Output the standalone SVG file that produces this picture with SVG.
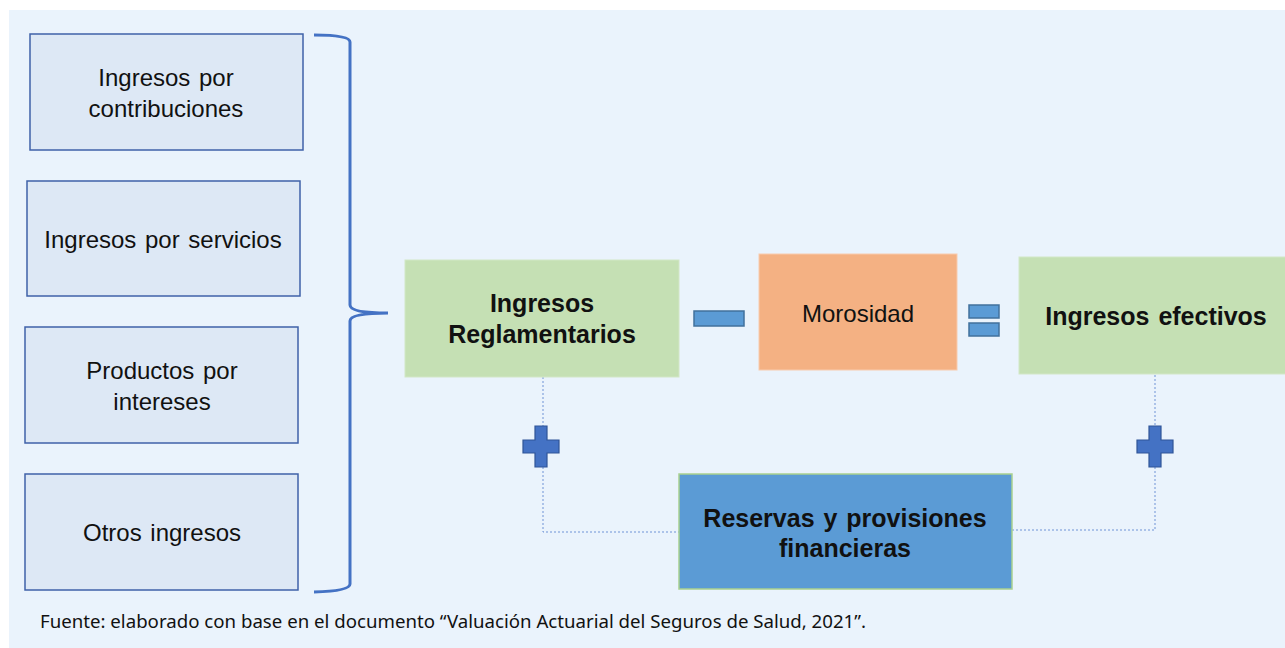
<svg xmlns="http://www.w3.org/2000/svg" width="1285" height="648" viewBox="0 0 1285 648">
<style>
.src{fill:#DDE8F5;stroke:#3F62A8;stroke-width:1.5}
.t{font-family:"Liberation Sans",Arial,sans-serif;font-size:24px;fill:#111;text-anchor:middle;word-spacing:2px}
.b{font-weight:bold;font-size:25px}
.green{fill:#C5E0B4;stroke:#D2E7C6;stroke-width:1}
.op{fill:#5B9BD5;stroke:#41719C;stroke-width:1.5}
.plus{fill:#4472C4;stroke:#2F5597;stroke-width:1.2}
.dot{fill:none;stroke:#6E93D6;stroke-width:1;stroke-dasharray:2 2}
</style>
<rect x="0" y="0" width="1285" height="648" fill="#ffffff"/>
<rect x="9" y="10" width="1276" height="638" fill="#EAF3FC"/>
<g id="n1"><rect class="src" x="30" y="34" width="273" height="116"/><text class="t" x="166" y="86">Ingresos por</text><text class="t" x="166" y="117">contribuciones</text></g>
<g id="n2"><rect class="src" x="27" y="181" width="273" height="115"/><text class="t" x="163" y="248">Ingresos por servicios</text></g>
<g id="n3"><rect class="src" x="25" y="327" width="273" height="116"/><text class="t" x="162" y="379">Productos por</text><text class="t" x="162" y="410">intereses</text></g>
<g id="n4"><rect class="src" x="25" y="474" width="273" height="116"/><text class="t" x="162" y="541">Otros ingresos</text></g>
<g id="brace"><path d="M314,35 Q350,35 350,42 L350,305 Q350,313 388,313 Q350,313 350,321 L350,584 Q350,591 314,592" fill="none" stroke="#4472C4" stroke-width="3"/></g>
<g id="connectors">
<path class="dot" d="M543,377 V426"/>
<path class="dot" d="M543,467 V532 H679"/>
<path class="dot" d="M1155,375 V426"/>
<path class="dot" d="M1155,467 V530 H1012"/>
</g>
<g id="n5"><rect class="green" x="405" y="260" width="274" height="117"/><text class="t b" x="542" y="312">Ingresos</text><text class="t b" x="542" y="343">Reglamentarios</text></g>
<g id="minus"><rect class="op" x="694" y="311" width="50" height="15"/></g>
<g id="n6"><rect x="759" y="254" width="198" height="116" fill="#F4B183" stroke="#F8CBAD" stroke-width="1"/><text class="t" x="858" y="322">Morosidad</text></g>
<g id="equals"><rect class="op" x="969" y="305" width="30" height="13"/><rect class="op" x="969" y="323" width="30" height="13"/></g>
<g id="n7"><rect class="green" x="1019" y="257" width="270" height="117"/><text class="t b" x="1156" y="325">Ingresos efectivos</text></g>
<g id="plus1"><path class="plus" d="M535,426 H547 V440 H559 V453 H547 V467 H535 V453 H523 V440 H535 Z"/></g>
<g id="plus2"><path class="plus" d="M1149,426 H1161 V440 H1173 V453 H1161 V467 H1149 V453 H1137 V440 H1149 Z"/></g>
<g id="n8"><rect x="679" y="474" width="333" height="115" fill="#5B9BD5" stroke="#A9D18E" stroke-width="1.5"/><text class="t b" x="845" y="527">Reservas y provisiones</text><text class="t b" x="845" y="557">financieras</text></g>
<text x="40" y="628" font-family="'Noto Sans',sans-serif" font-size="17.5" fill="#111" textLength="826" lengthAdjust="spacingAndGlyphs">Fuente: elaborado con base en el documento “Valuación Actuarial del Seguros de Salud, 2021”.</text>
</svg>
